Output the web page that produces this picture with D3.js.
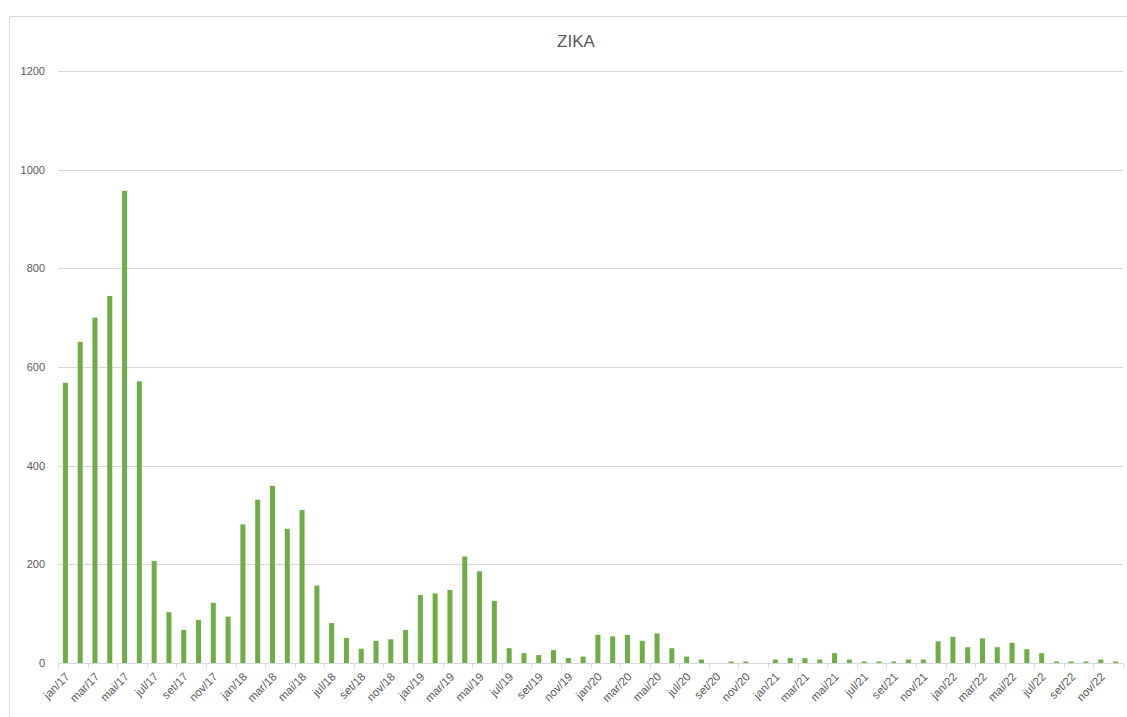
<!DOCTYPE html>
<html>
<head>
<meta charset="utf-8">
<script src="https://cdn.jsdelivr.net/npm/d3@7"></script>
<style>
  body { margin: 0; background: #fff; }
  text { font-family: "Liberation Sans", Arial, sans-serif; fill: #595959; }
</style>
</head>
<body>
<div id="chart"></div>
<script>
// monthly cases, jan/17 .. dez/22
var years = ["17", "18", "19", "20", "21", "22"];
var monthNames = ["jan", "fev", "mar", "abr", "mai", "jun", "jul", "ago", "set", "out", "nov", "dez"];
var months = [];
years.forEach(function (y) { monthNames.forEach(function (m) { months.push(m + "/" + y); }); });

var cases2017 = [568, 651, 700, 744, 957, 571, 207, 103, 67, 87, 122, 94];
var cases2018 = [281, 331, 359, 272, 310, 157, 81, 51, 29, 45, 48, 67];
var cases2019 = [138, 141, 148, 216, 186, 126, 30, 20, 16, 26, 10, 13];
var cases2020 = [57, 54, 57, 45, 60, 30, 13, 7, 0, 3, 3, 0];
var cases2021 = [7, 10, 10, 7, 20, 7, 3, 3, 3, 7, 7, 44];
var cases2022 = [53, 32, 50, 32, 41, 28, 20, 3, 3, 3, 7, 3];
var values = [].concat(cases2017, cases2018, cases2019, cases2020, cases2021, cases2022);

var yTicks = [0, 200, 400, 600, 800, 1000, 1200];

var width = 1127, height = 717;
var margin = { left: 58, right: 4, top: 71, bottom: 54 };

var svg = d3.select("#chart").append("svg")
  .attr("width", width)
  .attr("height", height);

// chart frame
svg.append("rect")
  .attr("x", 9.5).attr("y", 16.5)
  .attr("width", width + 10).attr("height", height + 10)
  .attr("fill", "none")
  .attr("stroke", "#d9d9d9");

var x = d3.scaleBand()
  .domain(months)
  .range([margin.left, width - margin.right])
  .paddingInner(0.66)
  .paddingOuter(0.33);

var y = d3.scaleLinear()
  .domain([0, 1200])
  .range([height - margin.bottom, margin.top]);

// gridlines
svg.append("g")
  .selectAll("line")
  .data(yTicks.slice(1))
  .enter().append("line")
  .attr("x1", margin.left).attr("x2", width - margin.right)
  .attr("y1", function (d) { return Math.round(y(d)) + 0.5; })
  .attr("y2", function (d) { return Math.round(y(d)) + 0.5; })
  .attr("stroke", "#d9d9d9");

// y labels
svg.append("g")
  .selectAll("text")
  .data(yTicks)
  .enter().append("text")
  .attr("x", 45)
  .attr("y", function (d) { return y(d) + 4; })
  .attr("text-anchor", "end")
  .style("font-size", "11px")
  .text(function (d) { return d; });

// bars
svg.append("g")
  .selectAll("rect")
  .data(values)
  .enter().append("rect")
  .attr("x", function (d, i) { return x(months[i]); })
  .attr("width", x.bandwidth())
  .attr("y", function (d) { return y(d); })
  .attr("height", function (d) { return y(0) - y(d); })
  .attr("fill", "#70ad47");

// category axis
var step = x.step();
var axisY = Math.round(y(0)) + 0.5;
svg.append("line")
  .attr("x1", margin.left).attr("x2", width - margin.right)
  .attr("y1", axisY).attr("y2", axisY)
  .attr("stroke", "#d9d9d9");

var tickIdx = d3.range(0, months.length + 1, 2);
svg.append("g")
  .selectAll("line")
  .data(tickIdx)
  .enter().append("line")
  .attr("x1", function (i) { return Math.round(margin.left + i * step) + 0.5; })
  .attr("x2", function (i) { return Math.round(margin.left + i * step) + 0.5; })
  .attr("y1", axisY).attr("y2", axisY + 5)
  .attr("stroke", "#d9d9d9");

svg.append("g")
  .selectAll("text")
  .data(months.filter(function (m, i) { return i % 2 === 0; }))
  .enter().append("text")
  .attr("transform", function (m) {
    var cx = x(m) + x.bandwidth() / 2 + 5;
    return "translate(" + cx + "," + (axisY + 14) + ") rotate(-45)";
  })
  .attr("text-anchor", "end")
  .style("font-size", "11.5px")
  .text(function (m) { return m; });

// title
svg.append("text")
  .attr("x", 576)
  .attr("y", 47)
  .attr("text-anchor", "middle")
  .style("font-size", "17px")
  .text("ZIKA");
</script>
</body>
</html>
